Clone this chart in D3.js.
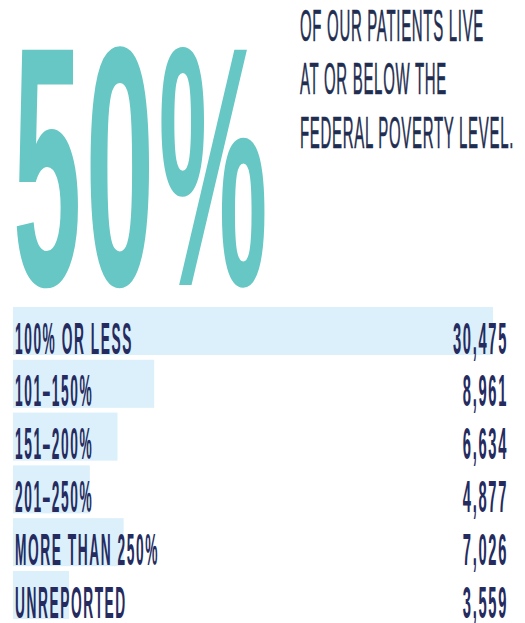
<!DOCTYPE html>
<html>
<head>
<meta charset="utf-8">
<script src="https://cdn.jsdelivr.net/npm/d3@7"></script>
<style>
  html, body { margin: 0; padding: 0; background: #fff; }
  svg { display: block; }
</style>
</head>
<body>
<div id="svg-container"></div>
<script>
const categories = [
  '100% OR LESS',
  '101–150%',
  '151–200%',
  '201–250%',
  'MORE THAN 250%',
  'UNREPORTED',
]
const patients = [30475, 8961, 6634, 4877, 7026, 3559]

const bigStat = '50%'
const headlineLines = [
  'OF OUR PATIENTS LIVE',
  'AT OR BELOW THE',
  'FEDERAL POVERTY LEVEL.',
]

const svgWidth = 525
const svgHeight = 623
const teal = '#66c7c4'
const navy = '#1f2e50'
const labelColor = '#252b5e'
const barColor = '#dbf0fb'
const fontFamily = "'Liberation Sans Narrow', 'Liberation Sans', Arial, sans-serif"

const svg = d3
  .select('#svg-container')
  .append('svg')
  .attr('width', svgWidth)
  .attr('height', svgHeight)

// font size that gives a wanted cap height (scan a drawn "H" on a canvas)
function sizeForCap(cap, weight) {
  const cnv = document.createElement('canvas')
  cnv.width = 200
  cnv.height = 200
  const c2 = cnv.getContext('2d')
  c2.fillStyle = '#fff'
  c2.fillRect(0, 0, 200, 200)
  c2.fillStyle = '#000'
  c2.font = `${weight} 100px ${fontFamily}`
  c2.fillText('H', 10, 150)
  const px = c2.getImageData(0, 0, 200, 200).data
  let firstRow = 150
  for (let yy = 0; yy < 150 && firstRow === 150; yy++) {
    for (let xx = 0; xx < 200; xx++) {
      if (px[(yy * 200 + xx) * 4] < 128) {
        firstRow = yy
        break
      }
    }
  }
  const capAt100 = 150 - firstRow || 72
  return (cap * 100) / capAt100
}

// squeeze a group of texts horizontally so the first one spans targetWidth
function squeeze(groups, targetWidth) {
  const natural = groups.select('text').node().getBBox().width
  const sx = targetWidth / natural
  groups.each(function () {
    const g = d3.select(this)
    g.attr('transform', `${g.attr('transform')} scale(${sx}, 1)`)
  })
}

// big "50%"
const bigGroup = svg.append('g').attr('transform', 'translate(13, 285)')
bigGroup
  .append('text')
  .text(bigStat)
  .attr('fill', teal)
  .style('font-family', fontFamily)
  .style('font-size', `${sizeForCap(236, 700)}px`)
  .style('font-weight', 700)
  .style('letter-spacing', '12px')
squeeze(bigGroup, 259)

// headline lines
const headGroups = svg
  .append('g')
  .selectAll('g')
  .data(headlineLines)
  .join('g')
  .attr('transform', (d, i) => `translate(300, ${40.5 + i * 53.5})`)
headGroups
  .append('text')
  .text(d => d)
  .attr('fill', navy)
  .style('font-family', fontFamily)
  .style('font-size', `${sizeForCap(30, 400)}px`)
  .style('letter-spacing', '2px')
  .attr('stroke', navy)
  .attr('stroke-width', 0.6)
squeeze(headGroups, 184)

// bars
const xScale = d3.scaleLinear().domain([0, d3.max(patients)]).range([13, 493])
const yScale = d3
  .scaleBand()
  .domain(categories)
  .range([307, 619])
  .paddingInner(0.09)
  .paddingOuter(0)

const rows = svg
  .append('g')
  .selectAll('g')
  .data(categories)
  .join('g')

rows
  .append('rect')
  .attr('x', xScale(0))
  .attr('y', d => yScale(d))
  .attr('width', (d, i) => xScale(patients[i]) - xScale(0))
  .attr('height', yScale.bandwidth())
  .attr('fill', barColor)

const rowFontSize = sizeForCap(30.5, 700)

const labelGroups = rows
  .append('g')
  .attr('transform', d => `translate(15, ${yScale(d) + yScale.bandwidth() - 1.5})`)
labelGroups
  .append('text')
  .text(d => d)
  .attr('fill', labelColor)
  .style('font-family', fontFamily)
  .style('font-size', `${rowFontSize}px`)
  .style('font-weight', 700)
  .style('letter-spacing', '5px')
squeeze(labelGroups, 118)

const valueGroups = rows
  .append('g')
  .attr('transform', d => `translate(508, ${yScale(d) + yScale.bandwidth() - 1.5})`)
valueGroups
  .append('text')
  .attr('text-anchor', 'end')
  .text((d, i) => d3.format(',')(patients[i]))
  .attr('fill', labelColor)
  .style('font-family', fontFamily)
  .style('font-size', `${rowFontSize}px`)
  .style('font-weight', 700)
  .style('letter-spacing', '5px')
squeeze(valueGroups, 55)
</script>
</body>
</html>
